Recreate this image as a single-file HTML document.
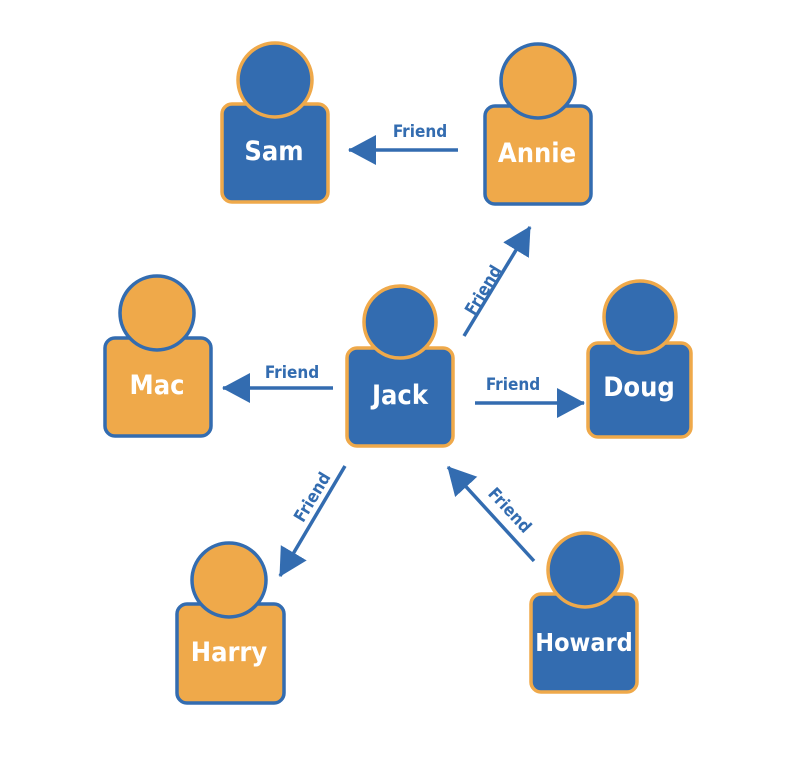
<!DOCTYPE html>
<html><head><meta charset="utf-8"><style>
html,body{margin:0;padding:0;background:#fff;width:800px;height:769px;overflow:hidden}
svg text{font-family:"DejaVu Sans Condensed","DejaVu Sans","Liberation Sans",sans-serif;font-stretch:condensed;font-weight:bold}
</style></head><body>
<svg width="800" height="769" viewBox="0 0 800 769" xmlns="http://www.w3.org/2000/svg">
<defs>
<marker id="ah" markerUnits="userSpaceOnUse" markerWidth="32" markerHeight="32" refX="27" refY="15" orient="auto">
<path d="M0,0 L28,15 L0,30 Z" fill="#336cb0"/>
</marker>
</defs>
<g stroke="#336cb0" stroke-width="3.5" fill="none" marker-end="url(#ah)">
<line x1="458" y1="150" x2="349" y2="150"/>
<line x1="464" y1="336" x2="530" y2="227"/>
<line x1="333" y1="388" x2="223" y2="388"/>
<line x1="475" y1="403" x2="584" y2="403"/>
<line x1="345" y1="466" x2="280" y2="576"/>
<line x1="534" y1="561" x2="448" y2="467"/>
</g>
<g fill="#336cb0" font-size="17" text-anchor="middle">
<text x="420" y="137">Friend</text>
<text x="292" y="378">Friend</text>
<text x="513" y="390">Friend</text>
<text transform="translate(483,290) rotate(-59)" y="6">Friend</text>
<text transform="translate(312,497) rotate(-59)" y="6">Friend</text>
<text transform="translate(510,510) rotate(47)" y="6">Friend</text>
</g>
<g stroke-width="3.5">
<rect x="222" y="104" width="106" height="98" rx="10" fill="#336cb0" stroke="#efa94a"/>
<circle cx="275" cy="80" r="37" fill="#336cb0" stroke="#efa94a"/>
<rect x="485" y="106" width="106" height="98" rx="10" fill="#efa94a" stroke="#336cb0"/>
<circle cx="538" cy="81" r="37" fill="#efa94a" stroke="#336cb0"/>
<rect x="105" y="338" width="106" height="98" rx="10" fill="#efa94a" stroke="#336cb0"/>
<circle cx="157" cy="313" r="37" fill="#efa94a" stroke="#336cb0"/>
<rect x="347" y="348" width="106" height="98" rx="10" fill="#336cb0" stroke="#efa94a"/>
<circle cx="400" cy="322" r="36" fill="#336cb0" stroke="#efa94a"/>
<rect x="588" y="343" width="103" height="94" rx="10" fill="#336cb0" stroke="#efa94a"/>
<circle cx="640" cy="317" r="36" fill="#336cb0" stroke="#efa94a"/>
<rect x="177" y="604" width="107" height="99" rx="10" fill="#efa94a" stroke="#336cb0"/>
<circle cx="229" cy="580" r="37" fill="#efa94a" stroke="#336cb0"/>
<rect x="531" y="594" width="106" height="98" rx="10" fill="#336cb0" stroke="#efa94a"/>
<circle cx="585" cy="570" r="37" fill="#336cb0" stroke="#efa94a"/>
</g>
<g fill="#fff" font-size="27" text-anchor="middle">
<text x="274" y="160">Sam</text>
<text x="537" y="162">Annie</text>
<text x="157" y="394">Mac</text>
<text x="400" y="404">Jack</text>
<text x="639" y="396">Doug</text>
<text x="229" y="661">Harry</text>
<text x="584" y="651" font-size="25">Howard</text>
</g>
</svg>
</body></html>
